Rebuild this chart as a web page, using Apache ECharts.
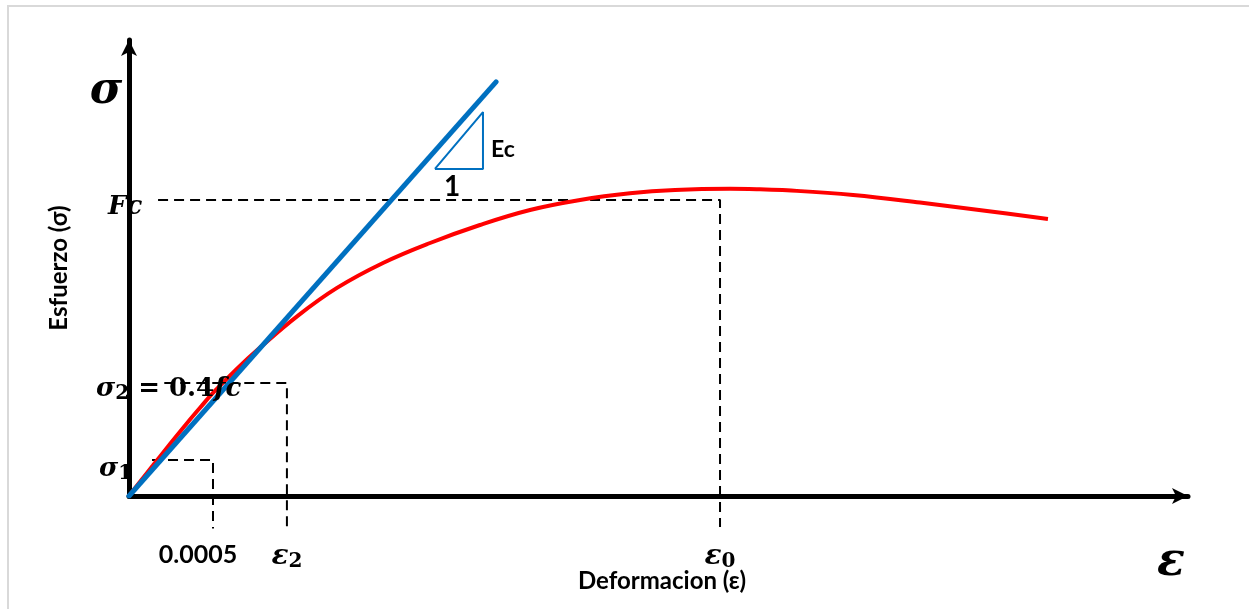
<!DOCTYPE html>
<html><head><meta charset="utf-8">
<script src="https://cdn.jsdelivr.net/npm/echarts@6/dist/echarts.min.js"></script>
<style>html,body{margin:0;padding:0;background:#fff}#c{width:1249px;height:609px}</style>
</head><body><div id="c"></div>
<script>
// ---- data (x: strain ε, y: stress normalised by f'c) ----
const curveStrain = [0, 0.0000714, 0.000143, 0.000244, 0.000345, 0.000423, 0.0005, 0.000637, 0.00078, 0.001006, 0.001238, 0.001512, 0.001792, 0.002089, 0.002387, 0.002685, 0.002982, 0.00325, 0.003577, 0.003756, 0.003917, 0.00431, 0.004708, 0.005107, 0.00547];
const curveStress = [0, 0.0524, 0.1037, 0.1757, 0.2459, 0.298, 0.348, 0.4267, 0.5014, 0.6095, 0.703, 0.7872, 0.8547, 0.9155, 0.9662, 1.0, 1.0226, 1.0338, 1.0378, 1.0361, 1.0328, 1.0169, 0.9916, 0.9628, 0.9358];
const tangentStrain = [0, 0.002185];
const tangentStress = [0, 1.399];
const slopeTriStrain = [0.001821, 0.002107, 0.002107, 0.001821];
const slopeTriStress = [1.105, 1.105, 1.297, 1.105];
const fcStrain = [0.000173, 0.003518, 0.003518];
const fcStress = [1.0, 1.0, -0.105];
const sig2Strain = [0.00021, 0.00094, 0.00094];
const sig2Stress = [0.382, 0.382, -0.105];
const sig1Strain = [0.000137, 0.0005, 0.0005];
const sig1Stress = [0.1216, 0.1216, -0.11];
const strainTicks = [0.0005, 0.00094, 0.003518];
const strainTickLabels = ['{num|0.0005}', '{eps|ε}{sub|2}', '{eps|ε}{sub|0}'];

const zip = (a, b) => a.map((v, i) => [v, b[i]]);
const SERIF = '"DejaVu Serif"';
const SANS = 'Lato';

const chart = echarts.init(document.getElementById('c'));
const dash = (name, xs, ys) => ({
  name, type: 'line', data: zip(xs, ys), symbol: 'none', clip: false, z: 1,
  lineStyle: { color: '#000', width: 2, type: [10, 6] }, silent: true
});
chart.setOption({
  animation: false,
  backgroundColor: '#fff',
  grid: { left: 129, top: 40, width: 1059, height: 456 },
  xAxis: {
    type: 'value', min: 0, max: 0.0063036,
    splitLine: { show: false }, axisTick: { show: false },
    axisLine: { lineStyle: { color: '#000', width: 5 }, symbol: ['none', 'arrow'], symbolSize: [12, 16] },
    axisLabel: {
      customValues: strainTicks, margin: 46,
      formatter: v => {
        let best = 0;
        strainTicks.forEach((t, i) => { if (Math.abs(t - v) < Math.abs(strainTicks[best] - v)) best = i; });
        return strainTickLabels[best];
      },
      rich: {
        num: { fontFamily: SANS, fontWeight: 'bold', fontSize: 25, color: '#000', padding: [0, 30, 0, 0] },
        eps: { fontFamily: SERIF, fontWeight: 'bold', fontStyle: 'italic', fontSize: 28, color: '#000', lineHeight: 30 },
        sub: { fontFamily: SERIF, fontWeight: 'bold', fontSize: 20, color: '#000', verticalAlign: 'bottom', lineHeight: 18 }
      }
    }
  },
  yAxis: {
    type: 'value', min: 0, max: 1.5405,
    splitLine: { show: false }, axisTick: { show: false }, axisLabel: { show: false },
    axisLine: { show: true, lineStyle: { color: '#000', width: 5 }, symbol: ['none', 'arrow'], symbolSize: [12, 16] }
  },
  series: [
    dash('fc', fcStrain, fcStress),
    dash('sig2', sig2Strain, sig2Stress),
    dash('sig1', sig1Strain, sig1Stress),
    { name: 'curve', type: 'line', data: zip(curveStrain, curveStress), symbol: 'none', smooth: 0.4, z: 3,
      lineStyle: { color: '#FF0000', width: 4 } },
    { name: 'Ec', type: 'line', data: zip(tangentStrain, tangentStress), symbol: 'none', z: 4,
      lineStyle: { color: '#0070C0', width: 5, cap: 'round' } },
    { name: 'tri', type: 'line', data: zip(slopeTriStrain, slopeTriStress), symbol: 'none', z: 4,
      lineStyle: { color: '#0070C0', width: 2 } }
  ],
  graphic: [
    { type: 'rect', z: 0, silent: true, shape: { x: 8, y: 6, width: 1300, height: 700 },
      style: { fill: null, stroke: '#d9d9d9', lineWidth: 2 } },
    { type: 'text', z: 100, x: 106, y: 92, style: { text: 'σ', font: 'italic bold 44px ' + SERIF, fill: '#000', align: 'center', verticalAlign: 'middle' } },
    { type: 'text', z: 100, x: 108, y: 207, style: { text: 'Fc', font: 'italic bold 26px ' + SERIF, fill: '#000', align: 'left', verticalAlign: 'middle' } },
    { type: 'text', z: 100, x: 96, y: 389, style: {
        text: '{s|σ}{sub|2}{n| = 0.4}{s|fc}', align: 'left', verticalAlign: 'middle',
        rich: {
          s: { fontFamily: SERIF, fontWeight: 'bold', fontStyle: 'italic', fontSize: 26, fill: '#000', lineHeight: 30 },
          sub: { fontFamily: SERIF, fontWeight: 'bold', fontSize: 20, fill: '#000', verticalAlign: 'bottom', lineHeight: 17 },
          n: { fontFamily: SERIF, fontWeight: 'bold', fontSize: 26, fill: '#000', lineHeight: 30 }
        } } },
    { type: 'text', z: 100, x: 99, y: 469, style: {
        text: '{s|σ}{sub|1}', align: 'left', verticalAlign: 'middle',
        rich: {
          s: { fontFamily: SERIF, fontWeight: 'bold', fontStyle: 'italic', fontSize: 26, fill: '#000', lineHeight: 30 },
          sub: { fontFamily: SERIF, fontWeight: 'bold', fontSize: 20, fill: '#000', verticalAlign: 'bottom', lineHeight: 17 }
        } } },
    { type: 'text', z: 100, x: 491, y: 150, style: { text: 'Ec', font: 'bold 23px ' + SANS, fill: '#000', align: 'left', verticalAlign: 'middle' } },
    { type: 'text', z: 100, x: 452, y: 187, style: { text: '1', font: 'bold 28px ' + SANS, fill: '#000', align: 'center', verticalAlign: 'middle' } },
    { type: 'text', z: 100, x: 662, y: 581, style: { text: 'Deformacion (ε)', font: 'bold 24px ' + SANS, fill: '#000', align: 'center', verticalAlign: 'middle' } },
    { type: 'text', z: 100, x: 59, y: 268, rotation: Math.PI / 2, style: { text: 'Esfuerzo (σ)', font: 'bold 24px ' + SANS, fill: '#000', align: 'center', verticalAlign: 'middle' } },
    { type: 'text', z: 100, x: 1171, y: 563, style: { text: 'ε', font: 'italic bold 46px ' + SERIF, fill: '#000', align: 'center', verticalAlign: 'middle' } }
  ]
});
</script></body></html>
